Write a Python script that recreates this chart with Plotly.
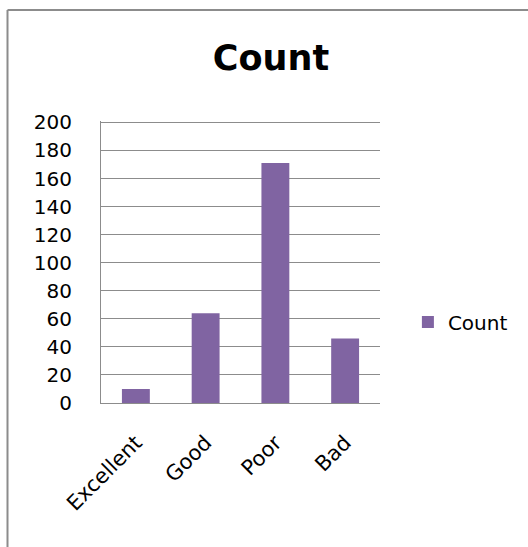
import plotly.graph_objects as go

categories = ["Excellent", "Good", "Poor", "Bad"]
counts = [10, 64, 171, 46]
series_name = "Count"
y_ticks = list(range(0, 201, 20))

W, H = 528, 547
L, R, T, B = 101, 148, 121, 144

fig = go.Figure()
fig.add_trace(go.Bar(
    x=categories, y=counts, name=series_name,
    marker=dict(color="#8064A2", line=dict(width=0)),
    showlegend=True,
))

FONT = "DejaVu Sans"
grid = "#8C8C8C"

fig.update_layout(
    width=W, height=H,
    margin=dict(l=L, r=R, t=T, b=B, pad=0),
    paper_bgcolor="white", plot_bgcolor="white",
    bargap=0.6,
    font=dict(family=FONT, size=20, color="black"),
    title=dict(text="<b>Count</b>", font=dict(family=FONT, size=35, color="black"),
               x=271 / W, xref="container", xanchor="center",
               y=1 - 58 / H, yref="container", yanchor="middle"),
    showlegend=True,
    legend=dict(x=1.1, xanchor="left", y=(403 - 322) / 282, yanchor="middle",
                font=dict(family=FONT, size=20), bgcolor="rgba(0,0,0,0)",
                itemwidth=30),
    xaxis=dict(type="category", range=[-0.5, 3.5], showgrid=False,
               showline=True, linecolor=grid, linewidth=1, ticks="",
               tickangle=-45, tickfont=dict(family=FONT, size=21),
               ticklabelstandoff=18, zeroline=False),
    yaxis=dict(range=[0, 201], tickvals=y_ticks, showgrid=True, gridcolor=grid,
               gridwidth=1, showline=True, linecolor=grid, linewidth=1, ticks="",
               tickfont=dict(family=FONT, size=20), ticklabelstandoff=24,
               zeroline=False),
)

# frame border (top and left edges)
def px_x(px):
    return (px - L) / (W - L - R)

def px_y(py):
    return (H - B - py) / (H - T - B)

fig.add_shape(type="line", xref="paper", yref="paper",
              x0=px_x(7.5), x1=px_x(W + 5), y0=px_y(10), y1=px_y(10),
              line=dict(color="#8C8C8C", width=2))
fig.add_shape(type="line", xref="paper", yref="paper",
              x0=px_x(7.5), x1=px_x(7.5), y0=px_y(10), y1=px_y(H + 5),
              line=dict(color="#8C8C8C", width=2))

fig.write_html("out.html")
